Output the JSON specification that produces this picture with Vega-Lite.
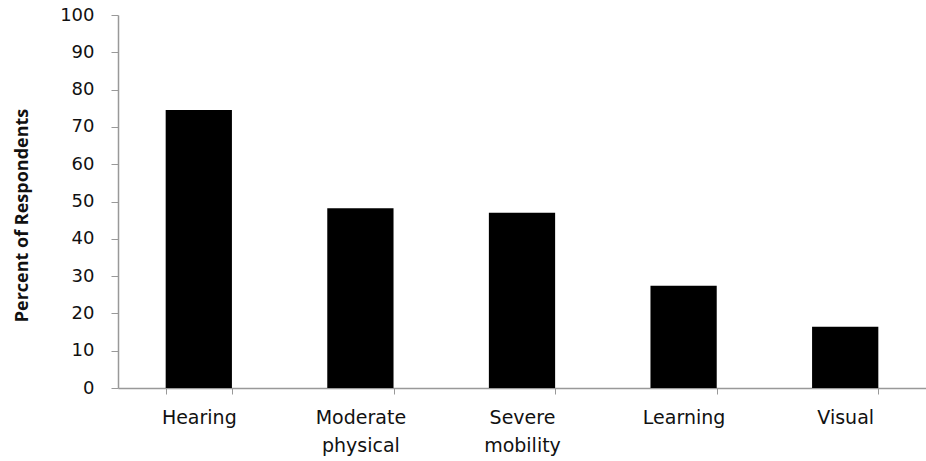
{
  "$schema": "https://vega.github.io/schema/vega-lite/v6.json",
  "width": 808,
  "height": 373,
  "autosize": {"type": "none"},
  "padding": {"left": 118, "top": 15, "right": 0, "bottom": 73},
  "background": "white",
  "data": {
    "values": [
      {"category": "Hearing", "percent": 74.5},
      {"category": "Moderate physical", "percent": 48.2},
      {"category": "Severe mobility", "percent": 47.0},
      {"category": "Learning", "percent": 27.4},
      {"category": "Visual", "percent": 16.4}
    ]
  },
  "mark": {"type": "bar", "color": "black"},
  "encoding": {
    "x": {
      "field": "category",
      "type": "nominal",
      "sort": null,
      "scale": {"paddingInner": 0.59, "paddingOuter": 0.295},
      "axis": {
        "title": null,
        "labelAngle": 0,
        "labelExpr": "split(datum.label, ' ')",
        "labelFont": "DejaVu Sans",
        "labelFontSize": 19,
        "labelColor": "#111",
        "labelLineHeight": 28,
        "labelPadding": 14,
        "tickBand": "extent",
        "tickSize": 6,
        "tickColor": "#999",
        "domainColor": "#999",
        "domainWidth": 1.5
      }
    },
    "y": {
      "field": "percent",
      "type": "quantitative",
      "scale": {"domain": [0, 100], "nice": false},
      "axis": {
        "title": "Percent of Respondents",
        "titleFont": "Open Sans",
        "titleFontSize": 18,
        "titleFontWeight": "bold",
        "titleColor": "#111",
        "titlePadding": 28,
        "titleY": 200,
        "values": [0, 10, 20, 30, 40, 50, 60, 70, 80, 90, 100],
        "grid": false,
        "labelFont": "DejaVu Sans",
        "labelFontSize": 18,
        "labelColor": "#111",
        "labelPadding": 17,
        "tickSize": 7,
        "tickColor": "#999",
        "domainColor": "#999",
        "domainWidth": 1.5
      }
    }
  },
  "config": {"view": {"stroke": null}}
}
